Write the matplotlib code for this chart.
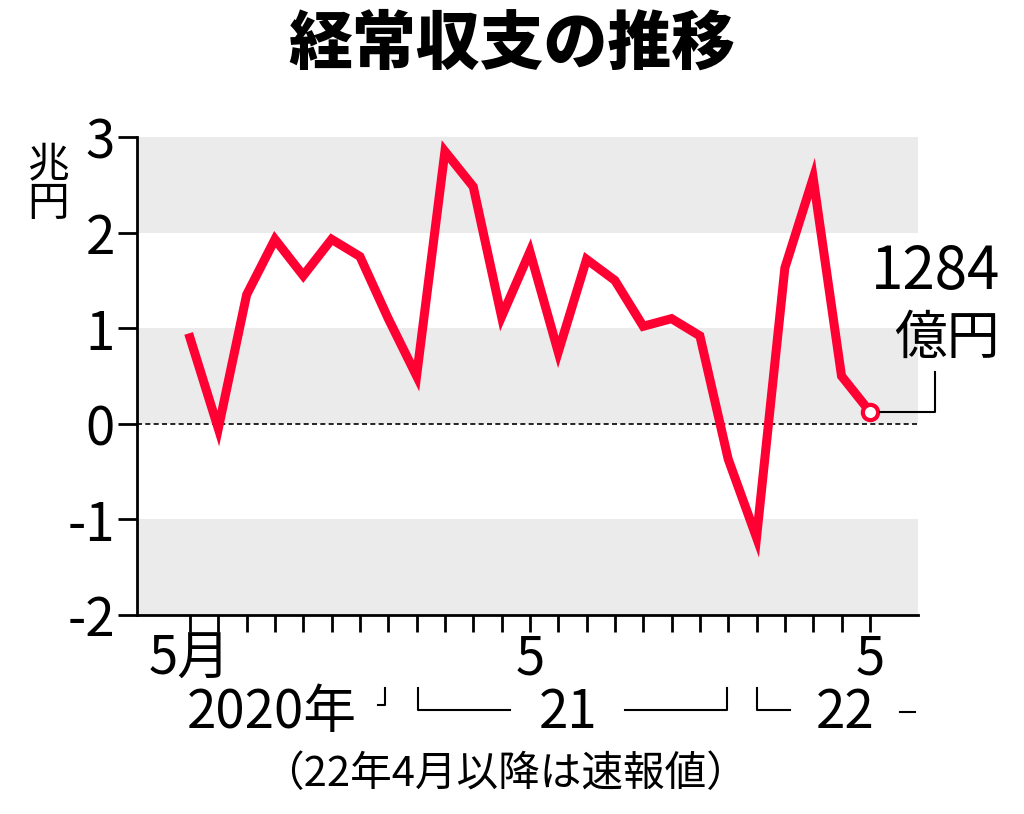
import numpy as np
import matplotlib.pyplot as plt
from matplotlib.lines import Line2D

plt.rcParams['font.family'] = ['Noto Sans CJK JP', 'DejaVu Sans']

# monthly current account, trillion yen, May 2020 .. May 2022
values = [0.90, -0.05, 1.35, 1.93, 1.55, 1.93, 1.75, 1.10, 0.50, 2.85, 2.48, 1.12,
          1.80, 0.75, 1.72, 1.50, 1.02, 1.10, 0.92, -0.37, -1.19, 1.63, 2.57, 0.50, 0.128]
y_ticks = [-2, -1, 0, 1, 2, 3]
x_tick_pos = [0, 12, 24]
x_tick_labels = ['5月', '5', '5']

red = '#ff0033'
W, H = 1024, 814

def px(x, y):
    return (x / W, 1 - y / H)

fig = plt.figure(figsize=(10.24, 8.14), dpi=100)
ax = fig.add_axes([137 / W, 1 - 615 / H, (918 - 137) / W, (615 - 137) / H])

x = np.arange(len(values))
ax.set_xlim(-1.87, 25.7)
ax.set_ylim(-2, 3)
for lo, hi in [(2, 3), (0, 1), (-2, -1)]:
    ax.axhspan(lo, hi, color='#ebebeb', lw=0, zorder=0)
ax.axhline(0, color='black', ls=(0, (3, 2)), lw=1.2, zorder=1)

ax.plot(x, values, color=red, lw=6.5, solid_joinstyle='miter', zorder=3)
ax.plot(x[-1], values[-1], 'o', ms=11, mfc='white', mec=red, mew=3, zorder=4)

for s in ['top', 'right']:
    ax.spines[s].set_visible(False)
for s in ['left', 'bottom']:
    ax.spines[s].set_linewidth(2)

ax.set_yticks(y_ticks)
ax.set_yticklabels([str(v) if v >= 0 else '-' + str(-v) for v in y_ticks])
ax.tick_params(axis='y', length=14, width=2, labelsize=38, pad=2)
ax.set_xticks(x, minor=True)
ax.set_xticks(x_tick_pos)
ax.set_xticklabels(x_tick_labels)
ax.tick_params(axis='x', which='both', length=12, width=2, labelsize=38, pad=0)

fig.text(*px(512, 45), '経常収支の推移', ha='center', va='center', fontsize=46, fontweight='heavy')
fig.text(*px(48, 185), '兆\n円', ha='center', va='center', fontsize=30, linespacing=0.95)

fig.text(*px(1000, 272), '1284', ha='right', va='center', fontsize=42)
fig.text(*px(1000, 338), '億円', ha='right', va='center', fontsize=38)
fig.add_artist(Line2D(*zip(px(880, 412), px(935, 412), px(935, 372)), color='black', lw=1.5,
                      transform=fig.transFigure))

# year labels with brackets
fig.text(*px(272, 712), '2020年', ha='center', va='center', fontsize=38)
fig.text(*px(568, 712), '21', ha='center', va='center', fontsize=38)
fig.text(*px(845, 712), '22', ha='center', va='center', fontsize=38)
segs = [
    [(378, 705), (385, 705), (385, 688)],
    [(418, 688), (418, 710), (510, 710)],
    [(625, 710), (727, 710), (727, 688)],
    [(757, 688), (757, 710), (790, 710)],
    [(900, 712), (915, 712)],
]
for seg in segs:
    fig.add_artist(Line2D(*zip(*[px(a, b) for a, b in seg]), color='black', lw=1.5,
                          transform=fig.transFigure))

fig.text(*px(505, 775), '（22年4月以降は速報値）', ha='center', va='center', fontsize=30)

fig.savefig('out.png', dpi=100)
